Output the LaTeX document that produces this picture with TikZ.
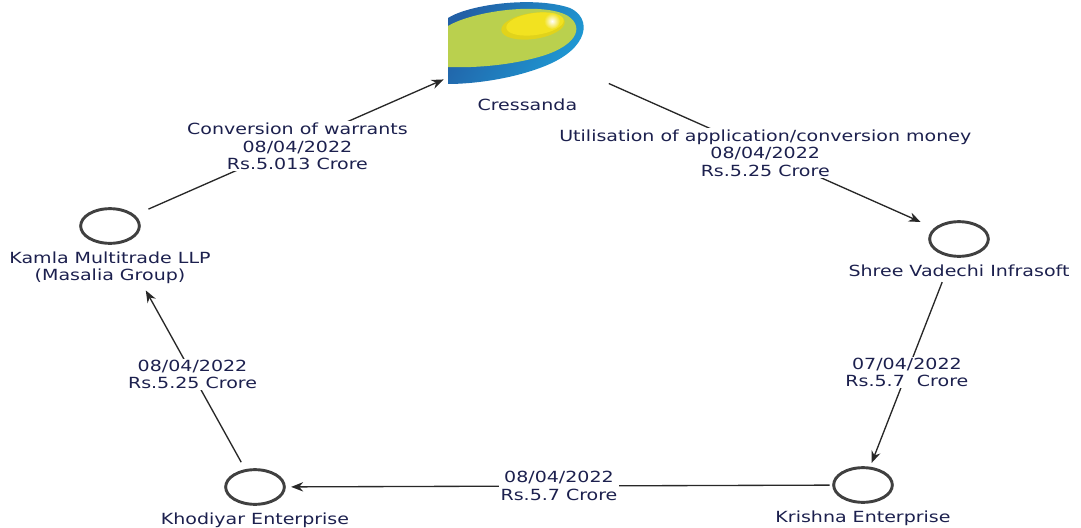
\documentclass[tikz,border=0pt]{standalone}
\usepackage{fontspec}
\setmainfont{DejaVu Sans}[FakeStretch=1.24]
\usetikzlibrary{arrows.meta,shapes.geometric}

\definecolor{ink}{RGB}{28,32,78}
\definecolor{ring}{RGB}{64,64,64}
\definecolor{wire}{RGB}{40,40,40}
\definecolor{cblue}{RGB}{34,96,166}
\definecolor{cteal}{RGB}{30,156,214}
\definecolor{cgreen}{RGB}{186,208,78}
\definecolor{cyellow}{RGB}{242,226,32}

\begin{document}
\begin{tikzpicture}[x=0.75pt,y=-0.75pt,>={Stealth[length=9pt,width=7pt]},
                    party/.style={ellipse,draw=ring,line width=2.2pt,minimum width=44pt,
                                  minimum height=26pt,inner sep=0pt},
                    who/.style={text=ink,font=\fontsize{11.5}{13.2}\selectfont,align=center,inner sep=0pt},
                    deal/.style={fill=white,text=ink,font=\fontsize{11.5}{13.2}\selectfont,align=center,
                                 inner sep=1pt},
                    flow/.style={->,draw=wire,line width=1pt}]
  \useasboundingbox (0,0) rectangle (1081,528);

  \shade[left color=cblue,right color=cteal,shading angle=60]
    (448,18) .. controls (470,4) and (535,-4) .. (570,8)
             .. controls (592,18) and (590,48) .. (545,66)
             .. controls (510,80) and (470,84) .. (448,84) -- cycle;
  \fill[cgreen]
    (448,26) .. controls (475,10) and (545,2) .. (568,16)
             .. controls (586,28) and (575,48) .. (535,58)
             .. controls (505,66) and (470,68) .. (448,67) -- cycle;
  \fill[cyellow!85!olive,rotate around={8:(533,26)}] (533,26) ellipse [x radius=32, y radius=13];
  \fill[cyellow,rotate around={8:(535,24)}] (535,24) ellipse [x radius=29, y radius=11];
  \shade[inner color=white,outer color=cyellow] (552,21) circle [radius=8];

  \node[inner sep=0pt,minimum size=0pt,
        label={[who,label distance=40pt,xshift=4pt]below:Cressanda}] (cres)    at (522,45)  {};
  \node[party,label={[who,label distance=5pt]below:Kamla Multitrade LLP\\(Masalia Group)}]
                                                       (kamla)   at (110,226) {};
  \node[party,label={[who,label distance=5pt]below:Shree Vadechi Infrasoft}]
                                                       (shree)   at (959,239) {};
  \node[party,label={[who,label distance=5pt]below:Krishna Enterprise}]
                                                       (krishna) at (863,485) {};
  \node[party,label={[who,label distance=5pt]below:Khodiyar Enterprise}]
                                                       (khod)    at (255,487) {};

  \path (kamla)   edge [flow,shorten <=11pt,shorten >=64pt]
                       node[deal,pos=.42,yshift=-2pt] {Conversion of warrants\\08/04/2022\\Rs.5.013 Crore} (cres)
        (cres)    edge [flow,shorten <=71pt,shorten >=11pt]
                       node[deal,pos=.59] {Utilisation of application/conversion money\\08/04/2022\\Rs.5.25 Crore} (shree)
        (shree)   edge [flow,shorten <=20pt,shorten >=3pt]
                       node[deal,pos=.55] {07/04/2022\\Rs.5.7\ \ Crore} (krishna)
        (krishna) edge [flow,shorten <=2pt,shorten >=4pt]
                       node[deal,pos=.5] {08/04/2022\\Rs.5.7 Crore} (khod)
        (khod)    edge [flow,shorten <=6pt,shorten >=40pt]
                       node[deal,pos=.42] {08/04/2022\\Rs.5.25 Crore} (kamla);
\end{tikzpicture}
\end{document}
